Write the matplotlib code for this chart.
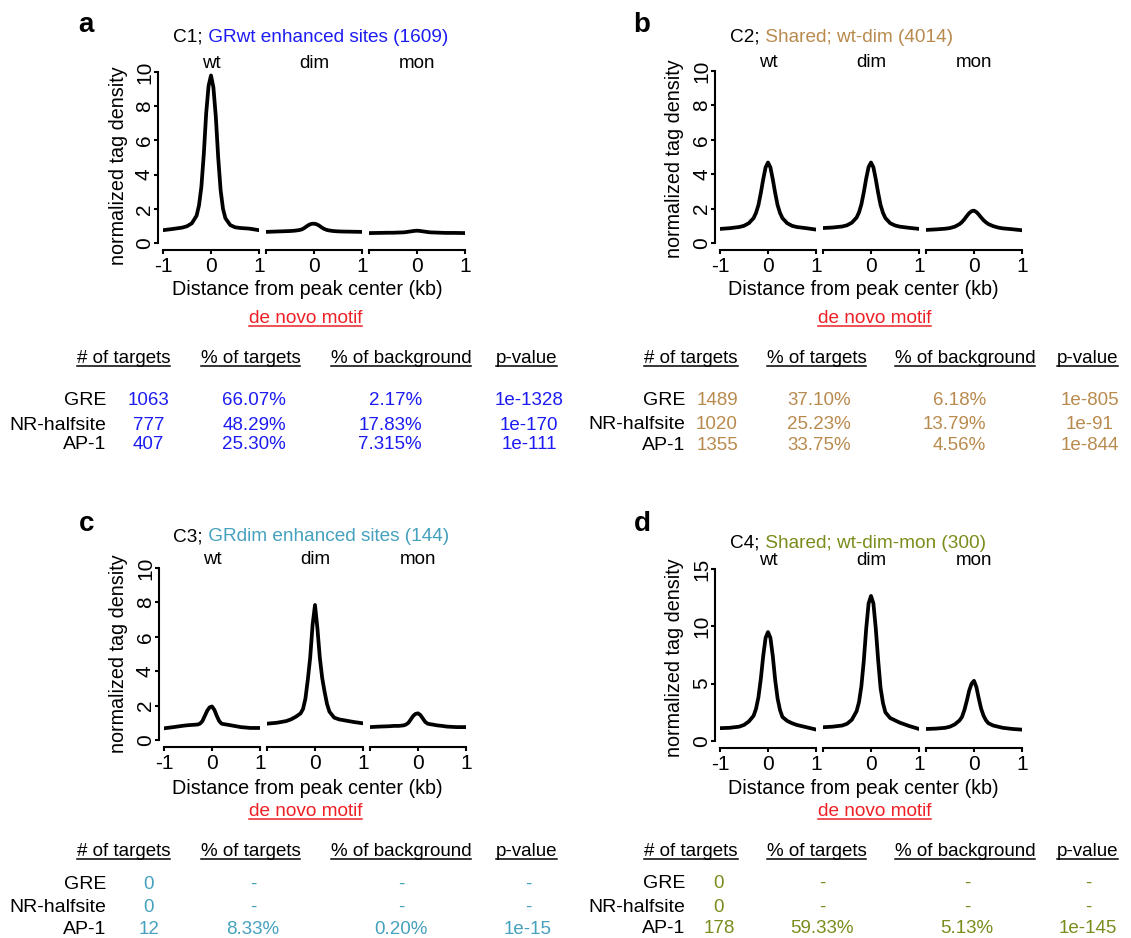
import matplotlib
matplotlib.use('Agg')
import matplotlib.pyplot as plt
from matplotlib.lines import Line2D

plt.rcParams['font.family'] = ['Liberation Sans', 'DejaVu Sans']

W, H = 1131, 938

########################################################################################
# data
dist_kb = [-1, -0.8, -0.6, -0.5, -0.4, -0.3, -0.25, -0.2, -0.15, -0.1, -0.05, 0,
           0.05, 0.1, 0.15, 0.2, 0.25, 0.3, 0.4, 0.5, 0.6, 0.8, 1]
conditions = ['wt', 'dim', 'mon']

c1_wt = [0.75, 0.82, 0.9, 0.98, 1.15, 1.6, 2.2, 3.3, 5.2, 7.6, 9.2, 9.8, 9.1, 7.4, 5.0, 3.1, 2.0, 1.45, 1.05, 0.92, 0.88, 0.84, 0.75]
c1_dim = [0.65, 0.67, 0.69, 0.7, 0.72, 0.76, 0.8, 0.88, 0.98, 1.07, 1.12, 1.13, 1.1, 1.03, 0.93, 0.84, 0.78, 0.74, 0.7, 0.68, 0.67, 0.66, 0.65]
c1_mon = [0.58, 0.59, 0.6, 0.6, 0.61, 0.62, 0.63, 0.65, 0.67, 0.69, 0.71, 0.72, 0.71, 0.69, 0.67, 0.65, 0.63, 0.62, 0.61, 0.6, 0.59, 0.59, 0.58]

c2_wt = [0.82, 0.86, 0.93, 1.0, 1.15, 1.45, 1.75, 2.2, 2.9, 3.7, 4.4, 4.68, 4.4, 3.7, 2.9, 2.2, 1.75, 1.45, 1.15, 1.0, 0.93, 0.86, 0.78]
c2_dim = [0.87, 0.9, 0.96, 1.03, 1.18, 1.48, 1.78, 2.25, 2.95, 3.75, 4.42, 4.68, 4.4, 3.7, 2.9, 2.2, 1.75, 1.45, 1.15, 1.02, 0.95, 0.88, 0.82]
c2_mon = [0.76, 0.79, 0.83, 0.87, 0.95, 1.1, 1.22, 1.38, 1.57, 1.74, 1.85, 1.88, 1.8, 1.65, 1.48, 1.32, 1.2, 1.1, 0.98, 0.9, 0.85, 0.8, 0.74]

c3_wt = [0.68, 0.75, 0.83, 0.86, 0.88, 0.9, 0.95, 1.1, 1.4, 1.7, 1.9, 1.95, 1.75, 1.4, 1.1, 0.95, 0.92, 0.9, 0.85, 0.8, 0.75, 0.7, 0.7]
c3_dim = [0.95, 1.0, 1.1, 1.2, 1.35, 1.55, 1.8, 2.4, 3.5, 4.8, 6.7, 7.85, 6.5, 4.8, 3.6, 2.8, 2.1, 1.65, 1.3, 1.2, 1.15, 1.05, 0.97]
c3_mon = [0.75, 0.78, 0.8, 0.82, 0.82, 0.85, 0.9, 1.0, 1.2, 1.4, 1.52, 1.55, 1.45, 1.25, 1.05, 0.95, 0.92, 0.9, 0.85, 0.82, 0.78, 0.75, 0.75]

c4_wt = [1.12, 1.15, 1.25, 1.4, 1.7, 2.2, 2.8, 3.8, 5.4, 7.4, 9.0, 9.5, 9.0, 7.4, 5.3, 3.7, 2.7, 2.1, 1.75, 1.55, 1.4, 1.2, 1.0]
c4_dim = [1.2, 1.25, 1.35, 1.5, 1.85, 2.6, 3.4, 4.8, 7.0, 9.8, 12.0, 12.65, 12.0, 9.8, 7.0, 4.6, 3.3, 2.5, 2.0, 1.8, 1.6, 1.3, 1.05]
c4_mon = [1.05, 1.08, 1.15, 1.25, 1.45, 1.8, 2.1, 2.7, 3.5, 4.4, 5.0, 5.25, 4.7, 3.7, 2.8, 2.2, 1.8, 1.55, 1.35, 1.25, 1.15, 1.05, 0.99]

cluster_ids = ['C1', 'C2', 'C3', 'C4']
cluster_names = ['GRwt enhanced sites (1609)', 'Shared; wt-dim (4014)',
                 'GRdim enhanced sites (144)', 'Shared; wt-dim-mon (300)']

motifs = ['GRE', 'NR-halfsite', 'AP-1']
table_headers = ['# of targets', '% of targets', '% of background', 'p-value']

c1_targets = ['1063', '777', '407']
c1_pct_targets = ['66.07%', '48.29%', '25.30%']
c1_pct_bg = ['2.17%', '17.83%', '7.315%']
c1_pval = ['1e-1328', '1e-170', '1e-111']

c2_targets = ['1489', '1020', '1355']
c2_pct_targets = ['37.10%', '25.23%', '33.75%']
c2_pct_bg = ['6.18%', '13.79%', '4.56%']
c2_pval = ['1e-805', '1e-91', '1e-844']

c3_targets = ['0', '0', '12']
c3_pct_targets = ['-', '-', '8.33%']
c3_pct_bg = ['-', '-', '0.20%']
c3_pval = ['-', '-', '1e-15']

c4_targets = ['0', '0', '178']
c4_pct_targets = ['-', '-', '59.33%']
c4_pct_bg = ['-', '-', '5.13%']
c4_pval = ['-', '-', '1e-145']

########################################################################################
# layout (pixel positions, measured from top-left)
panels = [
    dict(letter='a', color='#1c1cf2', profiles=[c1_wt, c1_dim, c1_mon], ymax=10, yticks=[0, 2, 4, 6, 8, 10],
         ax_left=163, ax_top=72, ax_bottom=243, letter_xy=(86, 32), title_xy=(173, 42), ylabel_xy=(119, 166),
         xlabel_xy=(307.5, 295), motif_xy=(305.5, 323), head_x=[123.5, 250.5, 401, 526.5], head_y=363,
         row_right=106, row_y=[405, 430, 449], col_x=[148.5, 254, 422, 529],
         col_ha=['center', 'center', 'right', 'center'],
         table=[c1_targets, c1_pct_targets, c1_pct_bg, c1_pval]),
    dict(letter='b', color='#b98a4e', profiles=[c2_wt, c2_dim, c2_mon], ymax=10, yticks=[0, 2, 4, 6, 8, 10],
         ax_left=720, ax_top=71, ax_bottom=243, letter_xy=(642, 32), title_xy=(730, 42), ylabel_xy=(674, 159),
         xlabel_xy=(863, 295), motif_xy=(874.5, 323), head_x=[691, 816.5, 965, 1087.5], head_y=363,
         row_right=685, row_y=[405, 429, 450], col_x=[717, 819, 986, 1090],
         col_ha=['center', 'center', 'right', 'center'],
         table=[c2_targets, c2_pct_targets, c2_pct_bg, c2_pval]),
    dict(letter='c', color='#45a1bd', profiles=[c3_wt, c3_dim, c3_mon], ymax=10, yticks=[0, 2, 4, 6, 8, 10],
         ax_left=164, ax_top=568, ax_bottom=740, letter_xy=(87, 531), title_xy=(173, 541), ylabel_xy=(119, 654),
         xlabel_xy=(307.5, 794), motif_xy=(305.5, 816), head_x=[123.5, 250.5, 401, 526.5], head_y=856,
         row_right=106, row_y=[889, 912, 934], col_x=[149, 253, 401, 528],
         col_ha=['center'] * 4,
         table=[c3_targets, c3_pct_targets, c3_pct_bg, c3_pval]),
    dict(letter='d', color='#7b8c1c', profiles=[c4_wt, c4_dim, c4_mon], ymax=15, yticks=[0, 5, 10, 15],
         ax_left=720, ax_top=569, ax_bottom=741, letter_xy=(642, 531), title_xy=(730, 548), ylabel_xy=(674, 658),
         xlabel_xy=(863, 794), motif_xy=(874.5, 816), head_x=[691, 816.5, 965, 1087.5], head_y=856,
         row_right=685, row_y=[888, 912, 933], col_x=[719, 822, 967, 1088],
         col_ha=['center'] * 4,
         table=[c4_targets, c4_pct_targets, c4_pct_bg, c4_pval]),
]

AX_W = 96
AX_STEP = 103
PT = 72 / 100  # pixels -> points
red = '#ee2026'


def fx(x):
    return x / W


def fy(y):
    return 1 - y / H


fig = plt.figure(figsize=(W / 100, H / 100), dpi=100)
renderer = fig.canvas.get_renderer()


def underline(t, y_px, color):
    bb = t.get_window_extent(renderer)
    fig.add_artist(Line2D([bb.x0 / W, bb.x1 / W], [fy(y_px + 3), fy(y_px + 3)],
                          transform=fig.transFigure, color=color, lw=1.1))


for k, p in enumerate(panels):
    # profile plots
    for j, cond in enumerate(conditions):
        left = p['ax_left'] + j * AX_STEP
        ax = fig.add_axes([fx(left), fy(p['ax_bottom']), AX_W / W, (p['ax_bottom'] - p['ax_top']) / H])
        ax.plot(dist_kb, p['profiles'][j], color='black', lw=2.7, solid_joinstyle='round')
        ax.set_xlim(-1, 1)
        ax.set_ylim(0, p['ymax'])
        ax.patch.set_visible(False)
        for s in ['top', 'right']:
            ax.spines[s].set_visible(False)
        ax.spines['bottom'].set_position(('outward', 7 * PT))
        ax.spines['bottom'].set_linewidth(1.5)
        ax.set_xticks([-1, 0, 1])
        ax.set_xticklabels(['-1', '0', '1'] if j == 0 else ['', '0', '1'])
        ax.tick_params(axis='x', length=4 * PT, width=1.5, pad=2, labelsize=15)
        if j == 0:
            ax.spines['left'].set_position(('outward', 5 * PT))
            ax.spines['left'].set_linewidth(1.5)
            ax.set_yticks(p['yticks'])
            ax.tick_params(axis='y', length=4 * PT, width=1.5, pad=0, labelsize=15, labelrotation=90)
            for lab in ax.get_yticklabels():
                lab.set_va('center')
        else:
            ax.spines['left'].set_visible(False)
            ax.set_yticks([])
        ax.set_title(cond, fontsize=13.5, pad=1)

    # panel letter and cluster title
    fig.text(fx(p['letter_xy'][0]), fy(p['letter_xy'][1]), p['letter'], fontsize=20, fontweight='bold',
             ha='center', va='baseline')
    t1 = fig.text(fx(p['title_xy'][0]), fy(p['title_xy'][1]), cluster_ids[k] + ';', fontsize=13.7,
                  ha='left', va='baseline')
    bb = t1.get_window_extent(renderer)
    fig.text(bb.x1 / W, fy(p['title_xy'][1]), ' ' + cluster_names[k], fontsize=13.7, color=p['color'],
             ha='left', va='baseline')

    fig.text(fx(p['ylabel_xy'][0]), fy(p['ylabel_xy'][1]), 'normalized tag density', fontsize=14.2,
             rotation=90, ha='center', va='center')
    fig.text(fx(p['xlabel_xy'][0]), fy(p['xlabel_xy'][1]), 'Distance from peak center (kb)', fontsize=14.2,
             ha='center', va='baseline')
    tm = fig.text(fx(p['motif_xy'][0]), fy(p['motif_xy'][1]), 'de novo motif', fontsize=13.7, color=red,
                  ha='center', va='baseline')
    underline(tm, p['motif_xy'][1], red)

    # motif table
    for hx, head in zip(p['head_x'], table_headers):
        th = fig.text(fx(hx), fy(p['head_y']), head, fontsize=13.5, ha='center', va='baseline')
        underline(th, p['head_y'], 'black')
    for r, motif in enumerate(motifs):
        fig.text(fx(p['row_right']), fy(p['row_y'][r]), motif, fontsize=14, ha='right', va='baseline')
        for c in range(4):
            fig.text(fx(p['col_x'][c]), fy(p['row_y'][r]), p['table'][c][r], fontsize=13.5,
                     color=p['color'], ha=p['col_ha'][c], va='baseline')

fig.savefig('out.png', dpi=100, facecolor='white')
